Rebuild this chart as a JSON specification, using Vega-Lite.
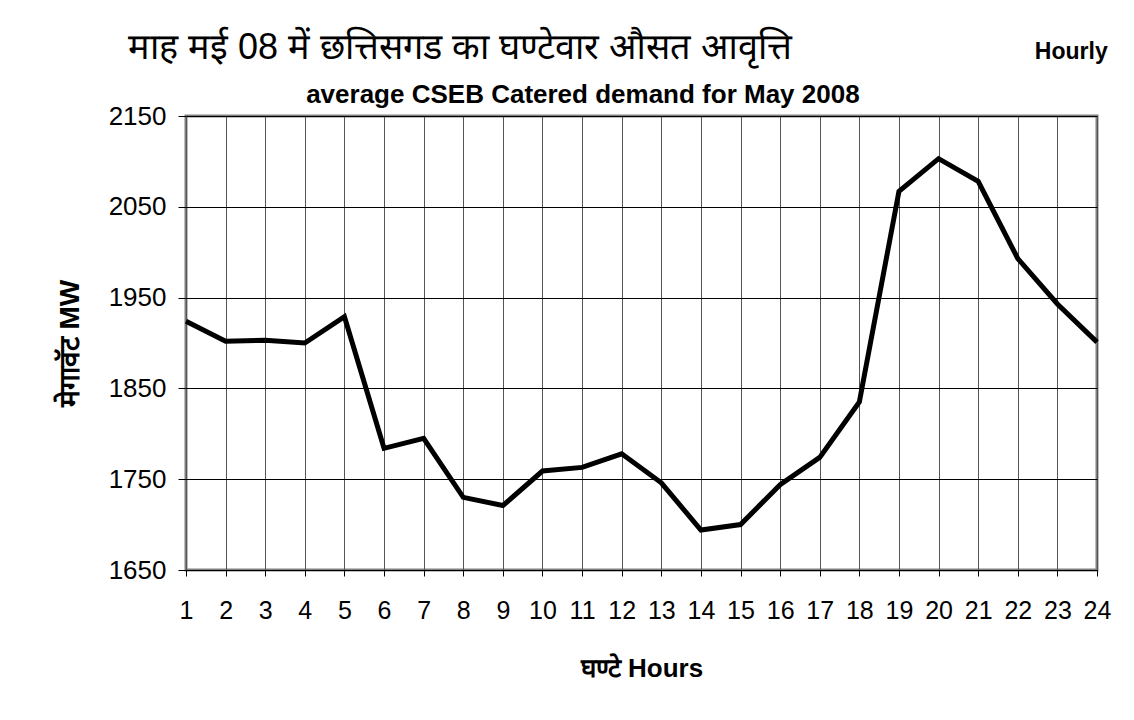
{
  "$schema": "https://vega.github.io/schema/vega-lite/v6.json",
  "width": 911,
  "height": 454,
  "autosize": "none",
  "padding": {"left": 186, "top": 116, "right": 37, "bottom": 150},
  "background": "white",
  "config": {
    "view": {"stroke": "#808080", "strokeWidth": 3},
    "font": "Liberation Sans",
    "axisX": {
      "values": [1,2,3,4,5,6,7,8,9,10,11,12,13,14,15,16,17,18,19,20,21,22,23,24],
      "format": "d",
      "grid": true, "gridColor": "#555555", "gridWidth": 1,
      "domain": false,
      "tickColor": "black", "tickSize": 6,
      "labelFontSize": 25, "labelColor": "black", "labelPadding": 22,
      "labelOverlap": false, "labelFlush": false,
      "titleFontSize": 26, "titleFontWeight": "bold", "titleColor": "black",
      "titlePadding": 32
    },
    "axisY": {
      "values": [1650, 1750, 1850, 1950, 2050, 2150],
      "format": "d",
      "grid": true, "gridColor": "black", "gridWidth": 1,
      "domain": false,
      "tickColor": "black", "tickSize": 8,
      "labelFontSize": 26, "labelColor": "black", "labelPadding": 12,
      "labelOverlap": false, "labelFlush": false,
      "titleFontSize": 28, "titleFontWeight": "bold", "titleColor": "black",
      "titlePadding": 24
    }
  },
  "layer": [
    {
      "data": {"values": [
        {"hour": 1, "mw": 1924}, {"hour": 2, "mw": 1902}, {"hour": 3, "mw": 1903},
        {"hour": 4, "mw": 1900}, {"hour": 5, "mw": 1929}, {"hour": 6, "mw": 1784},
        {"hour": 7, "mw": 1795}, {"hour": 8, "mw": 1730}, {"hour": 9, "mw": 1721},
        {"hour": 10, "mw": 1759}, {"hour": 11, "mw": 1763}, {"hour": 12, "mw": 1778},
        {"hour": 13, "mw": 1746}, {"hour": 14, "mw": 1694}, {"hour": 15, "mw": 1700},
        {"hour": 16, "mw": 1744}, {"hour": 17, "mw": 1774}, {"hour": 18, "mw": 1835},
        {"hour": 19, "mw": 2067}, {"hour": 20, "mw": 2103}, {"hour": 21, "mw": 2078},
        {"hour": 22, "mw": 1993}, {"hour": 23, "mw": 1943}, {"hour": 24, "mw": 1901}
      ]},
      "mark": {"type": "line", "color": "black", "strokeWidth": 5, "strokeJoin": "miter"},
      "encoding": {
        "x": {
          "field": "hour", "type": "quantitative",
          "scale": {"domain": [1, 24], "nice": false, "zero": false},
          "axis": {
            "values": [1,2,3,4,5,6,7,8,9,10,11,12,13,14,15,16,17,18,19,20,21,22,23,24],
            "format": "d",
            "title": "घण्टे Hours"
          }
        },
        "y": {
          "field": "mw", "type": "quantitative",
          "scale": {"domain": [1650, 2150], "nice": false, "zero": false},
          "axis": {
            "values": [1650, 1750, 1850, 1950, 2050, 2150],
            "format": "d",
            "title": "मेगावॅट MW"
          }
        }
      }
    },
    {
      "data": {"values": [{"t": "माह मई 08 में छत्तिसगड का घण्टेवार औसत आवृत्ति"}]},
      "mark": {"type": "text", "fontSize": 36, "color": "black", "align": "center", "baseline": "middle"},
      "encoding": {
        "x": {"datum": 7.92, "type": "quantitative", "axis": {"values": [1,2,3,4,5,6,7,8,9,10,11,12,13,14,15,16,17,18,19,20,21,22,23,24], "format": "d", "title": "घण्टे Hours"}},
        "y": {"datum": 2225, "type": "quantitative", "axis": {"values": [1650, 1750, 1850, 1950, 2050, 2150], "format": "d", "title": "मेगावॅट MW"}},
        "text": {"field": "t"}
      }
    },
    {
      "data": {"values": [{"t": "Hourly"}]},
      "mark": {"type": "text", "fontSize": 23, "fontWeight": "bold", "color": "black", "align": "center", "baseline": "middle"},
      "encoding": {
        "x": {"datum": 23.35, "type": "quantitative", "axis": {"values": [1,2,3,4,5,6,7,8,9,10,11,12,13,14,15,16,17,18,19,20,21,22,23,24], "format": "d", "title": "घण्टे Hours"}},
        "y": {"datum": 2220, "type": "quantitative", "axis": {"values": [1650, 1750, 1850, 1950, 2050, 2150], "format": "d", "title": "मेगावॅट MW"}},
        "text": {"field": "t"}
      }
    },
    {
      "data": {"values": [{"t": "average CSEB Catered demand for May 2008"}]},
      "mark": {"type": "text", "fontSize": 26, "fontWeight": "bold", "color": "black", "align": "center", "baseline": "middle"},
      "encoding": {
        "x": {"datum": 11.02, "type": "quantitative", "axis": {"values": [1,2,3,4,5,6,7,8,9,10,11,12,13,14,15,16,17,18,19,20,21,22,23,24], "format": "d", "title": "घण्टे Hours"}},
        "y": {"datum": 2173, "type": "quantitative", "axis": {"values": [1650, 1750, 1850, 1950, 2050, 2150], "format": "d", "title": "मेगावॅट MW"}},
        "text": {"field": "t"}
      }
    }
  ]
}
